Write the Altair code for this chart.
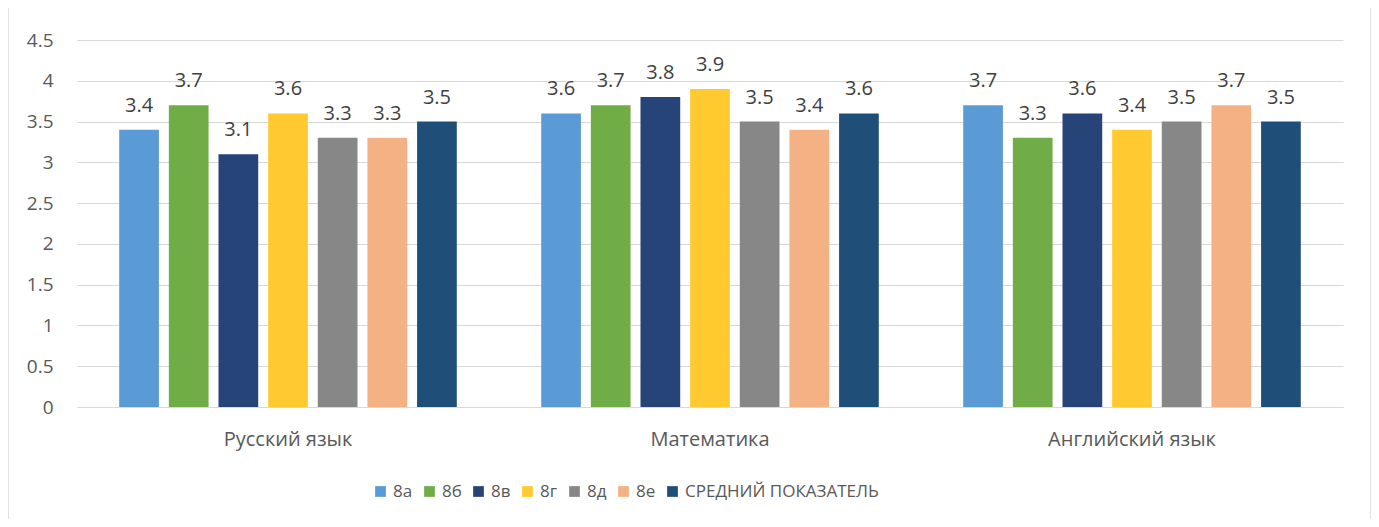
import altair as alt
import pandas as pd

subjects = ["Русский язык", "Математика", "Английский язык"]
series = ["8а", "8б", "8в", "8г", "8д", "8е", "СРЕДНИЙ ПОКАЗАТЕЛЬ"]
colors = ["#5B9BD5", "#70AD47", "#264478", "#FFCA2F", "#878787", "#F4B183", "#1F4E79"]
values_rus = [3.4, 3.7, 3.1, 3.6, 3.3, 3.3, 3.5]
values_math = [3.6, 3.7, 3.8, 3.9, 3.5, 3.4, 3.6]
values_eng = [3.7, 3.3, 3.6, 3.4, 3.5, 3.7, 3.5]
y_ticks = [0, 0.5, 1, 1.5, 2, 2.5, 3, 3.5, 4, 4.5]

rows = []
for subj, vals in zip(subjects, [values_rus, values_math, values_eng]):
    for s, v in zip(series, vals):
        rows.append({"subject": subj, "series": s, "value": v})
df = pd.DataFrame(rows)

FONT = "Open Sans"
W, H = 1266, 367

x = alt.X("subject:N", sort=subjects, title=None,
          scale=alt.Scale(paddingInner=0.2, paddingOuter=0.1),
          axis=alt.Axis(labelAngle=0, labelFontSize=20, labelColor="#595959", labelFont=FONT,
                        ticks=False, domainColor="#d9d9d9", labelPadding=22, labelLimit=0))
xo = alt.XOffset("series:N", sort=series,
                 scale=alt.Scale(paddingInner=0.2, paddingOuter=0))
y = alt.Y("value:Q", title=None,
          scale=alt.Scale(domain=[0, 4.5], nice=False),
          axis=alt.Axis(values=y_ticks, format="~g", labelFontSize=19, labelColor="#595959",
                        labelFont=FONT, ticks=False, domain=False, gridColor="#d9d9d9",
                        labelPadding=24))
color = alt.Color("series:N", sort=series,
                  scale=alt.Scale(domain=series, range=colors),
                  legend=alt.Legend(title=None, orient="none", direction="horizontal",
                                    legendX=295, legendY=443, symbolType="square",
                                    symbolSize=115, symbolStrokeWidth=0, labelFontSize=17,
                                    labelFont=FONT, labelColor="#595959", columnPadding=8,
                                    labelOffset=4, gridAlign="none", labelLimit=0))

base = alt.Chart(df)
bars = base.mark_bar().encode(x=x, xOffset=xo, y=y, color=color)
labels = base.mark_text(dy=-18, baseline="alphabetic", fontSize=20, font=FONT,
                        color="#404040").encode(x=x, xOffset=xo, y=y, text=alt.Text("value:Q", format=".1f"))

border = alt.Chart(alt.Data(values=[{}])).mark_rect(
    fill=None, stroke="#d9d9d9", strokeWidth=1.5, clip=False
).encode(x=alt.value(-69), x2=alt.value(1294), y=alt.value(-60), y2=alt.value(600))

chart = alt.layer(bars, labels, border).properties(
    width=W, height=H,
    autosize=alt.AutoSizeParams(type="none"),
    padding={"left": 69, "top": 32, "right": 28, "bottom": 112},
).configure_view(stroke=None)

chart.save("out.html", embed_options={"renderer": "svg", "actions": False})
